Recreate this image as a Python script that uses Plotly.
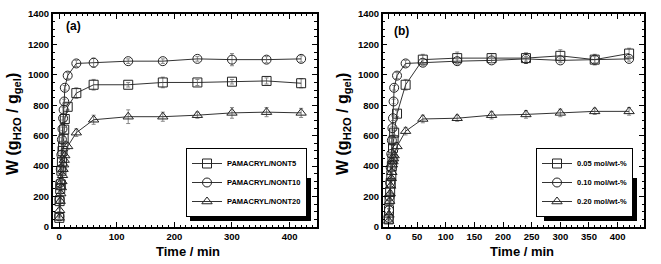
import plotly.graph_objects as go

# ---------------- data ----------------
time_min = [0.5, 1, 2, 3, 4, 5, 6, 7, 8, 9, 10, 15, 30, 60, 120, 180, 240, 300, 360, 420]

# panel (a)
a_nont5 = [60, 170, 250, 280, 370, 430, 500, 530, 580, 640, 710, 790, 880, 935, 935, 950, 950, 955, 960, 945]
a_nont5_err = [10, 10, 10, 10, 10, 12, 12, 12, 15, 15, 15, 20, 35, 35, 15, 35, 20, 15, 20, 30]
a_nont10 = [70, 180, 290, 380, 475, 575, 645, 715, 770, 825, 915, 995, 1075, 1080, 1090, 1090, 1105, 1100, 1100, 1105]
a_nont10_err = [10, 10, 10, 10, 10, 12, 12, 12, 15, 15, 15, 20, 20, 30, 15, 15, 15, 40, 20, 20]
a_nont20 = [60, 110, 170, 220, 260, 300, 340, 380, 410, 440, 470, 530, 620, 705, 725, 725, 735, 750, 755, 750]
a_nont20_err = [10, 10, 10, 10, 10, 12, 12, 12, 15, 15, 15, 20, 25, 30, 45, 30, 20, 35, 30, 30]

# panel (b)
b_005 = [50, 110, 180, 230, 290, 340, 400, 450, 520, 570, 620, 745, 935, 1100, 1110, 1110, 1110, 1125, 1100, 1140]
b_005_err = [10, 10, 10, 10, 10, 12, 12, 12, 15, 15, 15, 20, 35, 35, 40, 30, 35, 40, 35, 35]
b_010 = [60, 110, 200, 290, 390, 480, 570, 650, 715, 825, 915, 995, 1075, 1080, 1090, 1095, 1105, 1095, 1100, 1105]
b_010_err = [10, 10, 10, 10, 10, 12, 12, 12, 15, 15, 15, 20, 20, 20, 15, 15, 15, 15, 20, 15]
b_020 = [40, 80, 170, 220, 270, 320, 360, 410, 430, 450, 470, 530, 630, 710, 715, 735, 740, 750, 760, 760]
b_020_err = [10, 10, 10, 10, 10, 12, 12, 12, 15, 15, 15, 20, 25, 25, 20, 25, 25, 25, 20, 25]

names_a = ["PAMACRYL/NONT5", "PAMACRYL/NONT10", "PAMACRYL/NONT20"]
names_b = ["0.05 mol/wt-%", "0.10 mol/wt-%", "0.20 mol/wt-%"]
symbols = ["square-open", "circle-open", "triangle-up-open"]

x_ticks_a = [0, 100, 200, 300, 400]
x_ticks_b = [0, 50, 100, 150, 200, 250, 300, 350, 400, 450]
y_ticks = [0, 200, 400, 600, 800, 1000, 1200, 1400]

# ---------------- figure ----------------
W, H = 661, 264
ML, MT, MB = 0, 14, 37
plot_h = H - MT - MB

def px_x(p):
    return p / W

def px_y(p):
    return (H - MB - p) / plot_h

FONT = "Liberation Sans"
fig = go.Figure()

def add_series(xs, ys, errs, name, sym, xa, ya, legend):
    fig.add_trace(go.Scatter(
        x=xs, y=ys, name=name, mode="lines+markers",
        xaxis=xa, yaxis=ya, legend=legend,
        line=dict(color="#333333", width=1),
        marker=dict(symbol=sym, size=9, color="#222222", line=dict(width=1, color="#222222")),
        error_y=dict(type="data", array=errs, visible=True, color="#888888", thickness=1, width=2),
    ))

for ys, errs, nm, sym in zip([a_nont5, a_nont10, a_nont20], [a_nont5_err, a_nont10_err, a_nont20_err], names_a, symbols):
    add_series(time_min, ys, errs, nm, sym, "x", "y", "legend")
for ys, errs, nm, sym in zip([b_005, b_010, b_020], [b_005_err, b_010_err, b_020_err], names_b, symbols):
    add_series(time_min, ys, errs, nm, sym, "x2", "y2", "legend2")

tickfont = dict(family=FONT, size=9.5, color="black", weight="bold")
axis_common = dict(
    showline=True, linecolor="black", linewidth=1.5, mirror="allticks",
    ticks="inside", ticklen=5, tickwidth=1, tickcolor="black",
    showgrid=False, zeroline=False, tickfont=tickfont,
)
minor_x = dict(dtick=10, ticks="inside", ticklen=2.5, tickcolor="black")
minor_y = dict(dtick=50, ticks="inside", ticklen=2.5, tickcolor="black")

legend_font = dict(family=FONT, size=7.5, color="black", weight="bold")

fig.update_layout(
    width=W, height=H,
    margin=dict(l=ML, r=0, t=MT, b=MB),
    paper_bgcolor="white", plot_bgcolor="white",
    font=dict(family=FONT, color="black"),
    xaxis=dict(domain=[px_x(52.7), px_x(316.7)], range=[-11, 447], anchor="y",
               tickvals=x_ticks_a, minor=minor_x, **axis_common),
    yaxis=dict(domain=[0, 1], range=[0, 1400], anchor="x", tickvals=y_ticks,
               minor=minor_y, **axis_common),
    xaxis2=dict(domain=[px_x(382.7), px_x(644)], range=[-10, 446], anchor="y2",
                tickvals=x_ticks_b, minor=minor_x, **axis_common),
    yaxis2=dict(domain=[0, 1], range=[0, 1400], anchor="x2", tickvals=y_ticks,
                minor=minor_y, **axis_common),
    legend=dict(x=px_x(307), y=px_y(217), xanchor="right", yanchor="bottom",
                bgcolor="white", bordercolor="black", borderwidth=1,
                font=legend_font, itemwidth=30, tracegroupgap=0),
    legend2=dict(x=px_x(633), y=px_y(217), xanchor="right", yanchor="bottom",
                 bgcolor="white", bordercolor="black", borderwidth=1,
                 font=legend_font, itemwidth=30, tracegroupgap=0),
    showlegend=True,
)

# legend drop shadows
fig.add_shape(type="rect", xref="paper", yref="paper", layer="above",
              x0=px_x(190), x1=px_x(311), y0=px_y(221), y1=px_y(178),
              fillcolor="black", line=dict(width=0))
fig.add_shape(type="rect", xref="paper", yref="paper", layer="above",
              x0=px_x(544), x1=px_x(637), y0=px_y(221), y1=px_y(178),
              fillcolor="black", line=dict(width=0))

ytitle = "W (g<sub>H2O</sub> / g<sub>gel</sub>)"
title_font = dict(family=FONT, size=16, color="black", weight="bold")
for xp in [13, 343]:
    fig.add_annotation(text=ytitle, xref="paper", yref="paper", x=px_x(xp), y=px_y(124),
                       textangle=-90, showarrow=False, font=title_font, xanchor="center", yanchor="middle")
for xp in [188, 522]:
    fig.add_annotation(text="Time / min", xref="paper", yref="paper", x=px_x(xp), y=px_y(252),
                       showarrow=False, font=dict(family=FONT, size=13, color="black", weight="bold"),
                       xanchor="center", yanchor="middle")

fig.add_annotation(text="(a)", xref="paper", yref="paper", x=px_x(64), y=px_y(26),
                   showarrow=False, font=dict(family=FONT, size=12, color="black", weight="bold"),
                   xanchor="left", yanchor="middle")
fig.add_annotation(text="(b)", xref="paper", yref="paper", x=px_x(392), y=px_y(31),
                   showarrow=False, font=dict(family=FONT, size=12, color="black", weight="bold"),
                   xanchor="left", yanchor="middle")

fig.write_html("out.html", config={"displayModeBar": False},
               post_script="document.body.style.margin='0';document.body.style.padding='0';")
